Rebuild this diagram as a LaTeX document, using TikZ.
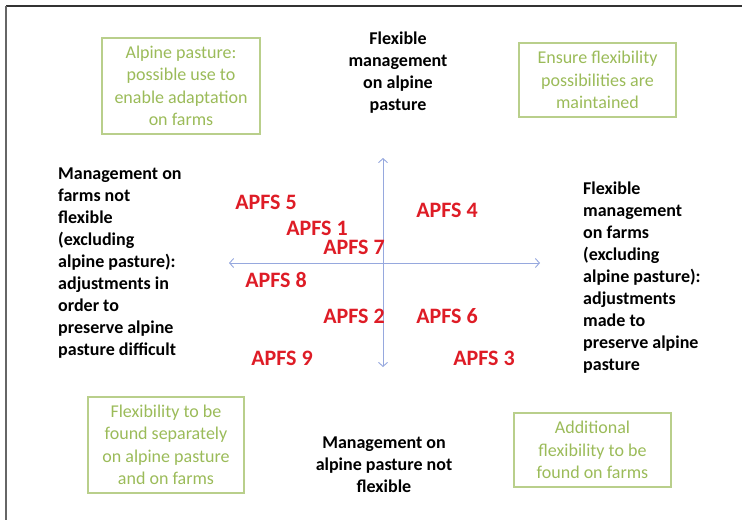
\documentclass[tikz,border=0pt]{standalone}
\usepackage{fontspec}
\setmainfont{Carlito}
\usepackage{tikz}
\usetikzlibrary{arrows.meta,positioning}
\definecolor{pastgreen}{RGB}{155,187,89}
\definecolor{apfsred}{RGB}{222,28,38}
\definecolor{axisblue}{RGB}{150,168,222}

\begin{document}
\begin{tikzpicture}[x=1pt,y=-1pt,
  grnbox/.style={rectangle,draw=pastgreen!70,line width=1.6pt,text=pastgreen,align=center,inner sep=0pt,font=\fontsize{18}{22.5}\selectfont},
  lbl/.style={inner sep=0pt,font=\bfseries\fontsize{18}{22}\selectfont},
  apfs/.style={inner sep=0pt,text=apfsred,font=\bfseries\fontsize{22}{24}\selectfont},
  axis/.style={{Straight Barb[length=4pt,width=9pt]}-{Straight Barb[length=4pt,width=9pt]},draw=axisblue,line width=0.9pt}
]
\useasboundingbox (0,0) rectangle (742,520);
% frame
\draw[line width=1.4pt,black!80] (6,6) -- (742,6);
\draw[line width=2pt,black!60] (6,6) -- (6,520);
% axes
\coordinate (vtop) at (383,158);
\coordinate (vbot) at (383,367);
\coordinate (hlft) at (229,263);
\coordinate (hrgt) at (540,263);
\draw[axis] (vtop) -- (vbot);
\draw[axis] (hlft) -- (hrgt);
% axis labels
\node[lbl,align=center,anchor=north] (apup) at (398,32) {Flexible\\management\\on alpine\\pasture};
\node[lbl,align=center,anchor=north] (apdown) at (384,437) {Management on\\alpine pasture not\\flexible};
\node[lbl,align=left,anchor=north west] (farmno) at (58,168) {Management on\\farms not\\flexible\\(excluding\\alpine pasture):\\adjustments in\\order to\\preserve alpine\\pasture difficult};
\node[lbl,align=left,anchor=north west] (farmflex) at (583,182) {Flexible\\management\\on farms\\(excluding\\alpine pasture):\\adjustments\\made to\\preserve alpine\\pasture};
% quadrant boxes
\node[grnbox,minimum width=158pt,minimum height=96pt] (qtl) at (181,86) {Alpine pasture:\\possible use to\\enable adaptation\\on farms};
\node[grnbox,minimum width=157pt,minimum height=74pt] (qtr) at (597.5,80) {Ensure flexibility\\possibilities are\\maintained};
\node[grnbox,minimum width=156pt,minimum height=96pt] (qbl) at (166,445) {Flexibility to be\\found separately\\on alpine pasture\\and on farms};
\node[grnbox,minimum width=157pt,minimum height=74pt] (qbr) at (592.5,450) {Additional\\flexibility to be\\found on farms};
% farm systems
\node[apfs] (s5) at (266,202) {APFS 5};
\node[apfs] (s1) at (317,228) {APFS 1};
\node[apfs] (s7) at (354,247) {APFS 7};
\node[apfs] (s4) at (447,210) {APFS 4};
\node[apfs] (s8) at (276,280) {APFS 8};
\node[apfs] (s2) at (354,316) {APFS 2};
\node[apfs] (s6) at (447,316) {APFS 6};
\node[apfs] (s9) at (282,358) {APFS 9};
\node[apfs] (s3) at (484,358) {APFS 3};
\end{tikzpicture}
\end{document}
